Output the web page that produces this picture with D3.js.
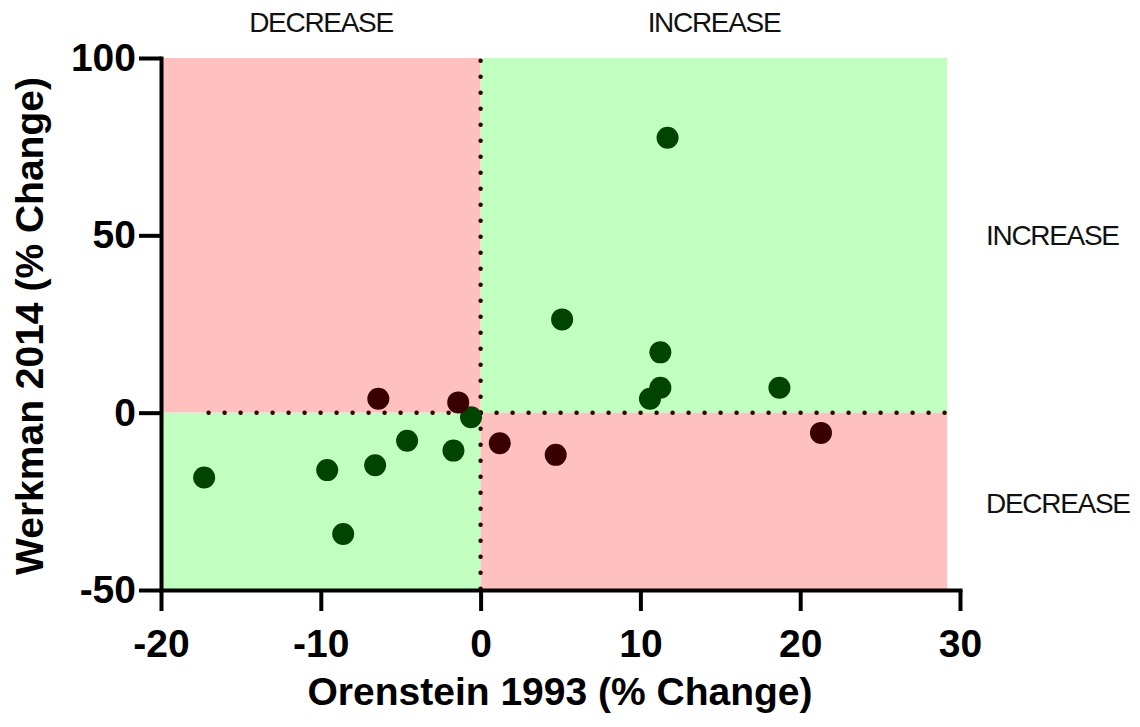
<!DOCTYPE html>
<html><head><meta charset="utf-8">
<script src="https://cdn.jsdelivr.net/npm/d3@7"></script>
<style>body{margin:0;background:#fff}svg{display:block}</style>
</head><body>
<svg id="chart" width="1140" height="727"></svg>
<script>
const greenX = [-17.3, -9.6, -8.6, -6.6, -4.6, -1.7, -0.6, 5.1, 11.25, 11.25, 10.6, 11.7, 18.7];
const greenY = [-18.3, -16.2, -34.2, -14.8, -7.9, -10.7, -1.3, 26.3, 17.0, 7.0, 3.9, 77.5, 7.0];
const redX = [-6.4, -1.4, 1.2, 4.7, 21.3];
const redY = [3.9, 2.9, -8.6, -11.9, -5.7];
const xTicks = [-20, -10, 0, 10, 20, 30];
const yTicks = [-50, 0, 50, 100];
const shadeMaxX = 29.2;
const xTitle = "Orenstein 1993 (% Change)";
const yTitle = "Werkman 2014 (% Change)";

const svg = d3.select("#chart");
const x = d3.scaleLinear().domain([-20, 30]).range([161, 960]);
const y = d3.scaleLinear().domain([-50, 100]).range([590, 58]);

const pink = "#ffc0c0", lgreen = "#c0ffc0";
const quads = [
  {x0: -20, x1: 0, y0: 0, y1: 100, c: pink},
  {x0: 0, x1: shadeMaxX, y0: 0, y1: 100, c: lgreen},
  {x0: -20, x1: 0, y0: -50, y1: 0, c: lgreen},
  {x0: 0, x1: shadeMaxX, y0: -50, y1: 0, c: pink}
];
svg.selectAll("rect.q").data(quads).join("rect")
  .attr("x", d => x(d.x0)).attr("y", d => y(d.y1))
  .attr("width", d => x(d.x1) - x(d.x0)).attr("height", d => y(d.y0) - y(d.y1))
  .attr("fill", d => d.c);

const dotCol = "#2a0800";
const dotted = [
  [x(0), y(0), x(0), y(100)],
  [x(0), y(0), x(0), y(-50)],
  [x(0), y(0), x(-18), y(0)],
  [x(0), y(0), x(shadeMaxX), y(0)]
];
svg.selectAll("line.dot").data(dotted).join("line")
  .attr("x1", d => d[0]).attr("y1", d => d[1]).attr("x2", d => d[2]).attr("y2", d => d[3])
  .attr("stroke", dotCol).attr("stroke-width", 4.5).attr("stroke-linecap", "round").attr("stroke-dasharray", "0 16");

const green = greenX.map((v, i) => ({x: v, y: greenY[i]}));
const red = redX.map((v, i) => ({x: v, y: redY[i]}));
svg.selectAll("circle.g").data(green).join("circle")
  .attr("cx", d => x(d.x)).attr("cy", d => y(d.y)).attr("r", 11).attr("fill", "#004400");
svg.selectAll("circle.r").data(red).join("circle")
  .attr("cx", d => x(d.x)).attr("cy", d => y(d.y)).attr("r", 11).attr("fill", "#3a0000");

const font = "'Liberation Sans', Arial, sans-serif";
const fmt = d => String(d);
const xAxis = svg.append("g").attr("transform", `translate(0,${y(-50)})`)
  .call(d3.axisBottom(x).tickValues(xTicks).tickFormat(fmt).tickSize(21).tickSizeOuter(0).tickPadding(10));
const yAxis = svg.append("g").attr("transform", `translate(${x(-20)},0)`)
  .call(d3.axisLeft(y).tickValues(yTicks).tickFormat(fmt).tickSize(22).tickSizeOuter(0).tickPadding(3));
[xAxis, yAxis].forEach(a => {
  a.select(".domain").attr("stroke", "#000").attr("stroke-width", 4).attr("stroke-linecap", "square");
  a.selectAll(".tick line").attr("stroke", "#000").attr("stroke-width", 4);
  a.selectAll("text").attr("fill", "#000").style("font-family", font).style("font-weight", "bold").style("font-size", "39px");
});
xAxis.selectAll("text").attr("y", 67).attr("dy", 0);

svg.append("text").attr("x", 560).attr("y", 705).attr("text-anchor", "middle")
  .style("font-family", font).style("font-weight", "bold").style("font-size", "39px").text(xTitle);
svg.append("text").attr("transform", "translate(43,326) rotate(-90)").attr("text-anchor", "middle")
  .style("font-family", font).style("font-weight", "bold").style("font-size", "39px").text(yTitle);

const labels = [
  {t: "DECREASE", x: 321, y: 32, a: "middle"},
  {t: "INCREASE", x: 714, y: 32, a: "middle"},
  {t: "INCREASE", x: 986, y: 245, a: "start"},
  {t: "DECREASE", x: 986, y: 513, a: "start"}
];
svg.selectAll("text.ql").data(labels).join("text")
  .attr("x", d => d.x).attr("y", d => d.y).attr("text-anchor", d => d.a)
  .style("font-family", font).style("font-size", "28px").style("letter-spacing", "-1.3px")
  .attr("fill", "#111").text(d => d.t);
</script>
</body></html>
